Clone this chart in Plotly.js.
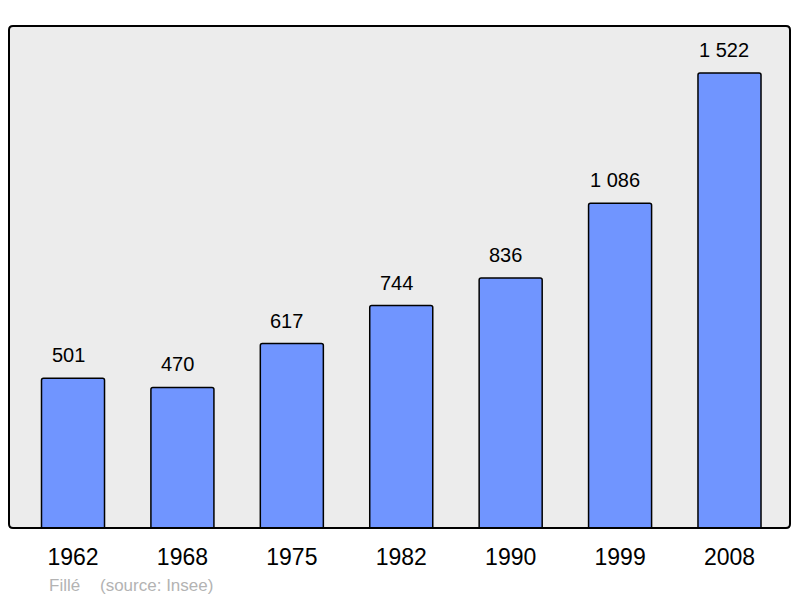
<!DOCTYPE html>
<html>
<head>
<meta charset="utf-8">
<script src="https://cdn.plot.ly/plotly-3.0.1.min.js"></script>
<style>html,body{margin:0;padding:0;background:#fff;}#chart{width:800px;height:598px;}</style>
</head>
<body>
<div id="chart"></div>
<script>
const years = ['1962', '1968', '1975', '1982', '1990', '1999', '2008'];
const population = [501, 470, 617, 744, 836, 1086, 1522];
const placeName = 'Fillé';
const sourceText = '(source: Insee)';

function fmt(n) {
  return String(n).replace(/\B(?=(\d{3})+(?!\d))/g, ' ');
}

const idx = years.map((_, i) => i);

const trace = {
  type: 'bar',
  x: idx,
  y: population,
  width: 0.576,
  marker: { color: '#7095ff', line: { color: '#000', width: 1.5 } },
  hoverinfo: 'skip'
};

const W = 781, H = 502;
const rx = 4 / W, ry = 4 / H;
const framePath = `M ${rx},0 L ${1-rx},0 Q 1,0 1,${ry} L 1,${1-ry} Q 1,1 ${1-rx},1 L ${rx},1 Q 0,1 0,${1-ry} L 0,${ry} Q 0,0 ${rx},0 Z`;

const annotations = population.map((v, i) => ({
  x: i, y: v, xref: 'x', yref: 'y',
  text: fmt(v), showarrow: false,
  xanchor: 'center', yanchor: 'bottom', yshift: 10, xshift: -5,
  font: { family: 'Liberation Sans, Arial, sans-serif', size: 20, color: '#000' }
}));
annotations.push({
  xref: 'paper', yref: 'paper', x: (47 - 9) / W, y: (528 - 585) / H,
  xanchor: 'left', yanchor: 'middle', showarrow: false, text: placeName,
  font: { family: 'Liberation Sans, Arial, sans-serif', size: 17, color: '#b3b3b3' }
});
annotations.push({
  xref: 'paper', yref: 'paper', x: (98 - 9) / W, y: (528 - 585) / H,
  xanchor: 'left', yanchor: 'middle', showarrow: false, text: sourceText,
  font: { family: 'Liberation Sans, Arial, sans-serif', size: 17, color: '#b3b3b3' }
});

const layout = {
  width: 800, height: 598,
  margin: { l: 9, r: 10, t: 26, b: 70 },
  paper_bgcolor: '#fff',
  plot_bgcolor: 'rgba(0,0,0,0)',
  showlegend: false,
  barcornerradius: 2,
  xaxis: {
    range: [-0.585, 6.553],
    tickvals: idx, ticktext: years,
    showgrid: false, zeroline: false, showline: false, ticks: '',
    ticklabelstandoff: 13,
    tickfont: { family: 'Liberation Sans, Arial, sans-serif', size: 23, color: '#000' },
    fixedrange: true
  },
  yaxis: {
    range: [0, 1679],
    showgrid: false, zeroline: false, showline: false, showticklabels: false, ticks: '',
    fixedrange: true
  },
  shapes: [
    { type: 'path', xref: 'paper', yref: 'paper', path: framePath, fillcolor: '#ececec', line: { width: 0 }, layer: 'below' },
    { type: 'path', xref: 'paper', yref: 'paper', path: framePath, fillcolor: 'rgba(0,0,0,0)', line: { color: '#000', width: 2 }, layer: 'above' }
  ],
  annotations: annotations
};

Plotly.newPlot('chart', [trace], layout, { displayModeBar: false, staticPlot: true });
</script>
</body>
</html>
